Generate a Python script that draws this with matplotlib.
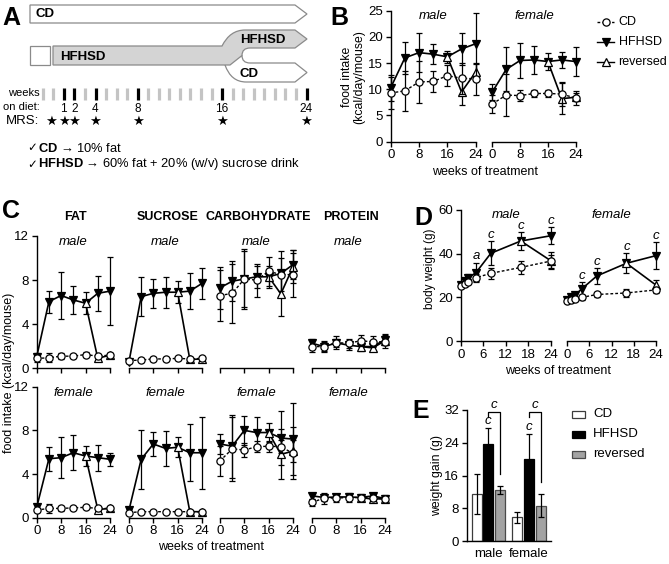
import numpy as np
import matplotlib
matplotlib.use('Agg')
import matplotlib.pyplot as plt
from matplotlib.path import Path
from matplotlib.patches import PathPatch, Polygon, Rectangle

plt.rcParams['font.family'] = ['Liberation Sans', 'DejaVu Sans']
plt.rcParams['mathtext.fontset'] = 'custom'
plt.rcParams['mathtext.rm'] = 'Liberation Sans'
plt.rcParams['mathtext.bf'] = 'Liberation Sans:bold'
plt.rcParams['axes.linewidth'] = 1.0

# ---------------- data ----------------
# A: study design
diet_weeks = np.arange(-1, 25)
mrs_weeks = [0, 1, 2, 4, 8, 16, 24]
week_labels = [1, 2, 4, 8, 16, 24]

wk = [0, 4, 8, 12, 16, 20, 24]
wk_rev = [16, 20, 24]

# B: total food intake (kcal/day/mouse)
b_m_cd = [9.3, 9.7, 11.4, 11.5, 12.6, 12.1, 12.0]
b_m_cd_sd = [3.0, 3.8, 4.0, 2.0, 2.0, 3.0, 3.0]
b_m_hf = [10.3, 16.0, 17.0, 16.7, 16.2, 17.7, 18.7]
b_m_hf_sd = [2.5, 3.1, 3.7, 1.9, 1.2, 3.0, 5.8]
b_m_rev = [16.2, 9.5, 13.3]
b_m_rev_sd = [2.5, 1.5]
b_f_cd = [7.2, 8.9, 8.8, 9.2, 9.2, 9.1, 8.3]
b_f_cd_sd = [1.8, 4.0, 1.0, 0.7, 0.7, 2.3, 1.3]
b_f_hf = [9.5, 13.8, 15.5, 15.6, 15.3, 15.6, 15.3]
b_f_hf_sd = [1.5, 4.2, 3.4, 2.6, 1.6, 1.5, 2.7]
b_f_rev = [15.3, 8.2, 8.5]
b_f_rev_sd = [3.0, 0.8]

# C: macronutrient intake (kcal/day/mouse)
fat_m_cd = [0.9, 0.95, 1.1, 1.1, 1.25, 1.1, 1.2]
fat_m_cd_sd = [0.3, 0.4, 0.3, 0.2, 0.2, 0.2, 0.2]
fat_m_hf = [1.05, 6.05, 6.6, 6.2, 5.9, 6.8, 7.0]
fat_m_hf_sd = [0.3, 1.0, 2.1, 1.3, 1.0, 1.6, 3.1]
fat_m_rev = [5.9, 0.9, 1.2]
fat_m_rev_sd = [0.2, 0.2]
suc_m_cd = [0.7, 0.75, 0.85, 0.85, 0.9, 0.85, 0.9]
suc_m_cd_sd = [0.15, 0.15, 0.15, 0.15, 0.15, 0.15, 0.15]
suc_m_hf = [0.6, 6.5, 6.8, 6.9, 6.9, 7.0, 7.7]
suc_m_hf_sd = [0.1, 1.8, 1.3, 1.4, 1.0, 1.6, 1.4]
suc_m_rev = [6.9, 0.8, 0.85]
suc_m_rev_sd = [0.15, 0.15]
carb_m_cd = [6.6, 6.8, 8.1, 8.0, 8.8, 8.5, 8.5]
carb_m_cd_sd = [2.3, 2.7, 2.7, 1.5, 1.3, 1.5, 2.0]
carb_m_hf = [7.3, 7.9, 8.1, 8.3, 8.3, 8.6, 9.4]
carb_m_hf_sd = [1.9, 1.8, 2.5, 1.0, 1.0, 2.0, 1.3]
carb_m_rev = [8.3, 6.75, 9.2]
carb_m_rev_sd = [2.0, 1.5]
prot_m_cd = [1.97, 1.97, 2.33, 2.27, 2.5, 2.4, 2.4]
prot_m_cd_sd = [0.5, 0.5, 0.6, 0.4, 0.5, 0.5, 0.6]
prot_m_hf = [2.27, 1.97, 2.3, 2.1, 1.97, 1.97, 2.6]
prot_m_hf_sd = [0.4, 0.4, 0.4, 0.4, 0.4, 0.4, 0.5]
prot_m_rev = [1.97, 1.85, 2.5]
prot_m_rev_sd = [0.3, 0.4]

fat_f_cd = [0.7, 0.85, 0.85, 0.9, 0.95, 0.85, 0.85]
fat_f_cd_sd = [0.2, 0.4, 0.2, 0.1, 0.1, 0.1, 0.1]
fat_f_hf = [0.95, 5.4, 5.5, 5.95, 5.65, 5.5, 5.35]
fat_f_hf_sd = [0.2, 1.1, 1.9, 1.6, 0.9, 1.2, 0.6]
fat_f_rev = [5.65, 0.75, 0.85]
fat_f_rev_sd = [0.1, 0.1]
suc_f_cd = [0.46, 0.55, 0.55, 0.55, 0.55, 0.55, 0.55]
suc_f_cd_sd = [0.1, 0.1, 0.1, 0.1, 0.1, 0.1, 0.1]
suc_f_hf = [0.7, 5.35, 6.75, 6.35, 6.45, 5.95, 5.95]
suc_f_hf_sd = [0.1, 2.7, 1.1, 1.6, 0.9, 2.6, 3.3]
suc_f_rev = [6.45, 0.55, 0.55]
suc_f_rev_sd = [0.1, 0.1]
carb_f_cd = [5.2, 6.3, 6.2, 6.5, 6.55, 6.5, 5.9]
carb_f_cd_sd = [1.4, 2.9, 0.6, 0.5, 0.5, 0.6, 2.4]
carb_f_hf = [6.75, 6.55, 8.0, 7.8, 7.8, 7.3, 7.2]
carb_f_hf_sd = [0.9, 2.9, 1.3, 1.4, 0.9, 2.5, 3.3]
carb_f_rev = [7.8, 5.8, 6.1]
carb_f_rev_sd = [2.3, 1.0]
prot_f_cd = [1.4, 1.8, 1.8, 1.85, 1.85, 1.8, 1.7]
prot_f_cd_sd = [0.3, 0.5, 0.4, 0.4, 0.2, 0.3, 0.2]
prot_f_hf = [2.0, 1.85, 1.9, 1.9, 1.85, 2.0, 1.75]
prot_f_hf_sd = [0.3, 0.3, 0.3, 0.3, 0.3, 0.3, 0.3]
prot_f_rev = [1.85, 1.7, 1.75]
prot_f_rev_sd = [0.3, 0.2]

nutrients = ['FAT', 'SUCROSE', 'CARBOHYDRATE', 'PROTEIN']

# D: body weight (g)
wk_d = [0, 1, 2, 4, 8, 16, 24]
wk_d_rev = [16, 24]
d_m_cd = [25.2, 26.0, 27.2, 29.0, 31.0, 33.7, 36.6]
d_m_cd_sd = [1.0, 1.0, 1.2, 1.5, 2.5, 3.0, 3.0]
d_m_hf = [25.5, 27.6, 29.0, 31.3, 40.2, 45.8, 48.2]
d_m_hf_sd = [1.0, 1.2, 1.5, 4.5, 5.6, 4.0, 4.0]
d_m_rev = [45.8, 36.8]
d_m_rev_sd = [4.0]
d_f_cd = [18.5, 18.8, 19.3, 20.0, 21.3, 22.0, 23.4]
d_f_cd_sd = [0.8, 0.8, 0.8, 1.0, 1.0, 1.8, 1.5]
d_f_hf = [18.8, 20.0, 20.9, 24.0, 29.8, 35.6, 39.1]
d_f_hf_sd = [0.8, 0.8, 1.0, 3.0, 3.5, 4.5, 6.1]
d_f_rev = [35.6, 25.6]
d_f_rev_sd = [2.5]
d_m_sig_wk = [4, 8, 16, 24]
d_m_sig = ['a', 'c', 'c', 'c']
d_f_sig_wk = [4, 8, 16, 24]
d_f_sig = ['c', 'c', 'c', 'c']

# E: weight gain (g)
e_groups = ['male', 'female']
e_cd = [11.4, 5.8]
e_cd_sd = [4.9, 1.4]
e_hf = [23.6, 20.0]
e_hf_sd = [3.9, 6.2]
e_rev = [12.5, 8.6]
e_rev_sd = [0.9, 2.8]

# ---------------- figure ----------------
W, H = 669, 564
FS = 9.5
MS = 5.2
fig = plt.figure(figsize=(W / 100, H / 100), dpi=100)

ov = fig.add_axes([0, 0, 1, 1])
ov.set_xlim(0, W)
ov.set_ylim(H, 0)
ov.axis('off')


def px_axes(x0, x1, y0, y1):
    ax = fig.add_axes([x0 / W, 1 - y1 / H, (x1 - x0) / W, (y1 - y0) / H])
    ax.patch.set_visible(False)
    return ax


def prism(ax, xticks, yticks=None, xlabels=True):
    ax.spines['top'].set_visible(False)
    ax.spines['right'].set_visible(False)
    ax.spines['left'].set_visible(yticks is not None)
    ax.set_xticks(xticks)
    if yticks is None:
        ax.set_yticks([])
    else:
        ax.set_yticks(yticks)
    ax.tick_params(direction='out', length=3.5, width=1, labelsize=FS, pad=2)
    if not xlabels:
        ax.set_xticklabels([])


CD = ('o', 'white', (0, (2, 1.5)), 5)
HF = ('v', 'black', '-', 3)
RV = ('^', 'white', '-', 4)


def trace(ax, x, y, e, style, ex=None, ey=None):
    marker, fc, ls, z = style
    if ex is None:
        ex, ey = x, y
    c = ax.errorbar(ex, ey, yerr=e, fmt='none', ecolor='k', elinewidth=0.9,
                    capsize=2.3, capthick=0.9, zorder=z - 0.5)
    for a in c.lines[1] + c.lines[2]:
        a.set_clip_on(False)
    ax.plot(x, y, ls=ls, color='k', lw=1.0 if style is CD else 1.2,
            marker=marker, ms=MS, mfc=fc, mec='k', mew=0.9, zorder=z,
            clip_on=False)


def three(ax, x, xr, cd, cd_sd, hf, hf_sd, rv, rv_sd):
    trace(ax, x, hf, hf_sd, HF)
    trace(ax, xr, rv, rv_sd, RV, xr[1:], rv[1:])
    trace(ax, x, cd, cd_sd, CD)


def T(x, y, s, **kw):
    kw.setdefault('fontsize', FS)
    kw.setdefault('ha', 'center')
    kw.setdefault('va', 'center')
    ov.text(x, y, s, **kw)


# ---------------- A ----------------
edge = '#8a8a8a'
ov.add_patch(Polygon([(30, 5), (295, 5), (307, 14), (295, 23), (30, 23)],
                     closed=True, fc='white', ec=edge, lw=0.9))
ov.add_patch(Rectangle((30, 46), 20, 19, fc='white', ec=edge, lw=0.9))
M, L, C3, CL = Path.MOVETO, Path.LINETO, Path.CURVE3, Path.CLOSEPOLY
low = Path([(225, 65), (231, 82), (246, 82), (295, 82), (307, 72.5), (295, 63),
            (250, 63), (242, 63), (242, 55.5), (225, 65)],
           [M, C3, C3, L, L, L, L, C3, C3, CL])
ov.add_patch(PathPatch(low, fc='white', ec=edge, lw=0.9))
up = Path([(53, 46), (222, 46), (230, 30), (245, 30), (295, 30), (307, 39),
           (295, 48), (250, 48), (242, 48), (242, 55.5), (230, 65), (53, 65), (53, 46)],
          [M, L, C3, C3, L, L, L, L, C3, C3, L, L, CL])
ov.add_patch(PathPatch(up, fc='#d4d4d4', ec=edge, lw=0.9))
T(36, 14, 'CD', fontweight='bold', ha='left')
T(60, 56.5, 'HFHSD', fontweight='bold', ha='left')
T(240, 40, 'HFHSD', fontweight='bold', ha='left')
T(240, 74, 'CD', fontweight='bold', ha='left')

wx = lambda w: 53.3 + 10.55 * w
for w in diet_weeks:
    col = 'black' if w in week_labels else '#c4c4c4'
    ov.plot([wx(w), wx(w)], [87.5, 100], color=col, lw=2.3, solid_capstyle='butt')
for w in week_labels:
    T(wx(w), 109.5, str(w), fontsize=8.5)
for w in mrs_weeks:
    T(wx(w) - (2 if w == 0 else 0), 121.5, '★', fontsize=9.5, family='DejaVu Sans')
T(39.5, 93, 'weeks', fontsize=8, ha='right')
T(39.5, 107.5, 'on diet:', fontsize=8, ha='right')
T(39.5, 121.5, 'MRS:', fontsize=9.5, ha='right')

for y, s in [(148, '$\\mathbf{CD}$ → 10% fat'),
             (164.5, '$\\mathbf{HFHSD}$ → 60% fat + 20% (w/v) sucrose drink')]:
    T(27, y, '✓', fontsize=8.5, ha='left', family='DejaVu Sans')
    T(38, y, s, fontsize=9.3, ha='left')

# ---------------- B ----------------
for x0, x1, data, left, sex in [
        (390.7, 475.7, (b_m_cd, b_m_cd_sd, b_m_hf, b_m_hf_sd, b_m_rev, b_m_rev_sd), True, 'male'),
        (492.3, 575.7, (b_f_cd, b_f_cd_sd, b_f_hf, b_f_hf_sd, b_f_rev, b_f_rev_sd), False, 'female')]:
    ax = px_axes(x0, x1, 10.7, 141.7)
    ax.set_xlim(0, 24)
    ax.set_ylim(0, 25)
    prism(ax, [0, 8, 16, 24], [0, 5, 10, 15, 20, 25] if left else None)
    three(ax, wk, wk_rev, *data)
    T((x0 + x1) / 2, 16, sex, style='italic')
T(485, 172, 'weeks of treatment', fontsize=9)
T(353, 77, 'food intake\n(kcal/day/mouse)', rotation=90, linespacing=1.0, fontsize=8.8)
for i, (lab, st) in enumerate([('CD', CD), ('HFHSD', HF), ('reversed', RV)]):
    y = 22 + 20 * i
    ov.plot([597, 605.5, 614], [y, y, y], ls=st[2], color='k', lw=1.0,
            marker=st[0], ms=MS, mfc=st[1], mec='k', mew=0.9, markevery=[1])
    T(618.5, y, lab, ha='left', fontsize=9)

# ---------------- C ----------------
c_cols = [(36.7, 110), (129, 202), (220, 293), (312, 385)]
c_rows = [(236, 368.3), (386.7, 517.7)]
c_data = [
    [(fat_m_cd, fat_m_cd_sd, fat_m_hf, fat_m_hf_sd, fat_m_rev, fat_m_rev_sd),
     (suc_m_cd, suc_m_cd_sd, suc_m_hf, suc_m_hf_sd, suc_m_rev, suc_m_rev_sd),
     (carb_m_cd, carb_m_cd_sd, carb_m_hf, carb_m_hf_sd, carb_m_rev, carb_m_rev_sd),
     (prot_m_cd, prot_m_cd_sd, prot_m_hf, prot_m_hf_sd, prot_m_rev, prot_m_rev_sd)],
    [(fat_f_cd, fat_f_cd_sd, fat_f_hf, fat_f_hf_sd, fat_f_rev, fat_f_rev_sd),
     (suc_f_cd, suc_f_cd_sd, suc_f_hf, suc_f_hf_sd, suc_f_rev, suc_f_rev_sd),
     (carb_f_cd, carb_f_cd_sd, carb_f_hf, carb_f_hf_sd, carb_f_rev, carb_f_rev_sd),
     (prot_f_cd, prot_f_cd_sd, prot_f_hf, prot_f_hf_sd, prot_f_rev, prot_f_rev_sd)]]
for r, (y0, y1) in enumerate(c_rows):
    for j, (x0, x1) in enumerate(c_cols):
        ax = px_axes(x0, x1, y0, y1)
        ax.set_xlim(0, 24)
        ax.set_ylim(0, 12)
        prism(ax, [0, 8, 16, 24], [0, 4, 8, 12] if j == 0 else None, xlabels=(r == 1))
        three(ax, wk, wk_rev, *c_data[r][j])
        T((x0 + x1) / 2, y0 + 6, ['male', 'female'][r], style='italic')
        if r == 0:
            T((x0 + x1) / 2 + 2, 216.5, nutrients[j], fontweight='bold', fontsize=9)
T(211, 547, 'weeks of treatment', fontsize=9)
T(9, 372.5, 'food intake (kcal/day/mouse)', rotation=90, fontsize=9)

# ---------------- D ----------------
for x0, x1, data, left, sex, sw, sl in [
        (461, 550.7, (d_m_cd, d_m_cd_sd, d_m_hf, d_m_hf_sd, d_m_rev, d_m_rev_sd), True, 'male', d_m_sig_wk, d_m_sig),
        (567.3, 656, (d_f_cd, d_f_cd_sd, d_f_hf, d_f_hf_sd, d_f_rev, d_f_rev_sd), False, 'female', d_f_sig_wk, d_f_sig)]:
    ax = px_axes(x0, x1, 210, 341)
    ax.set_xlim(0, 24)
    ax.set_ylim(0, 60)
    prism(ax, [0, 6, 12, 18, 24], [0, 20, 40, 60] if left else None)
    three(ax, wk_d, wk_d_rev, *data)
    hf, hf_sd = data[2], data[3]
    for w, s in zip(sw, sl):
        i = wk_d.index(w)
        ax.annotate(s, (w, hf[i] + hf_sd[i]), xytext=(0, 2.5), textcoords='offset points',
                    ha='center', va='baseline', style='italic', fontsize=FS,
                    annotation_clip=False)
    T((x0 + x1) / 2, 215, sex, style='italic')
T(558, 371, 'weeks of treatment', fontsize=9)
T(430, 269, 'body weight (g)', rotation=90, fontsize=8.5)

# ---------------- E ----------------
ax = px_axes(466.7, 551, 410, 541)
ax.set_xlim(-0.531, 1.54)
ax.set_ylim(0, 32)
prism(ax, [0, 1], [0, 8, 16, 24, 32])
ax.set_xticklabels(e_groups)
ax.tick_params(axis='x', length=0, pad=5)
xg = np.arange(len(e_groups))
off, bw = 0.2875, 0.246
ek = dict(elinewidth=0.9, capsize=2.3, capthick=0.9, ecolor='k')
bars = [(e_cd, e_cd_sd, 'white', '#3c3c3c'), (e_hf, e_hf_sd, 'black', 'black'),
        (e_rev, e_rev_sd, '#a3a3a3', '#4a4a4a')]
for k, (v, sd, fc, ec) in enumerate(bars):
    ax.bar(xg + (k - 1) * off, v, bw, yerr=sd, color=fc, edgecolor=ec, lw=0.9,
           error_kw=ek, zorder=2)
for g in range(len(e_groups)):
    ax.annotate('c', (xg[g], e_hf[g] + e_hf_sd[g]), xytext=(0, 3), textcoords='offset points',
                ha='center', va='baseline', style='italic', fontsize=FS, annotation_clip=False)
    xl, xr, top = xg[g], xg[g] + off, 31.4
    ax.plot([xl, xl, xr, xr], [top - 1, top, top, e_rev[g] + e_rev_sd[g] + 3], color='k',
            lw=0.9, clip_on=False)
    ax.annotate('c', ((xl + xr) / 2, top), xytext=(0, 3.5), textcoords='offset points',
                ha='center', va='baseline', style='italic', fontsize=FS, annotation_clip=False)
T(437, 475, 'weight gain (g)', rotation=90, fontsize=8.8)
for k, (lab, (_, _, fc, ec)) in enumerate(zip(['CD', 'HFHSD', 'reversed'], bars)):
    y = 414 + 20 * k
    ov.add_patch(Rectangle((572, y - 3.5), 13, 7, fc=fc, ec=ec, lw=0.9))
    T(593, y, lab, ha='left')

# panel letters
for s, x, y in [('A', 2, 25), ('B', 330, 25), ('C', 2, 218), ('D', 414, 225), ('E', 412, 418)]:
    ov.text(x, y, s, fontsize=18, fontweight='bold', ha='left', va='baseline')

fig.savefig('out.png', dpi=100)
